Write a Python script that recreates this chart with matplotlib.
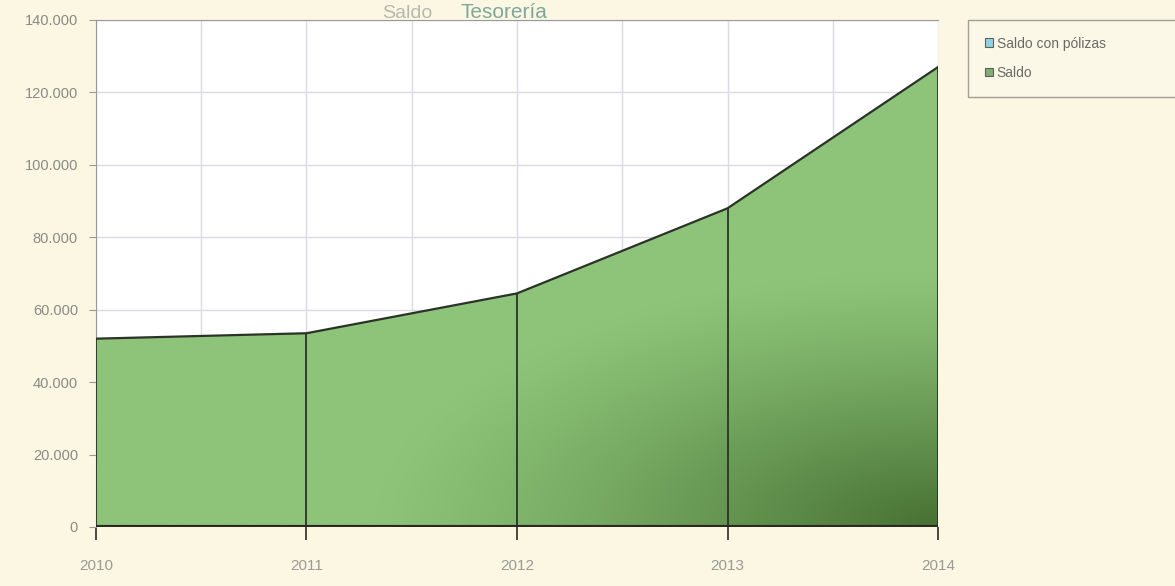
import matplotlib
matplotlib.use("Agg")
import matplotlib.pyplot as plt
import numpy as np
from matplotlib.patches import Polygon, Patch
from matplotlib.ticker import FuncFormatter

# Saldo de tesorería por año
years = [2010, 2011, 2012, 2013, 2014]
saldo = [52000, 53500, 64500, 88000, 127000]
legend_labels = ["Saldo con pólizas", "Saldo"]

plt.rcParams["font.family"] = ["Liberation Sans Narrow", "Liberation Sans", "DejaVu Sans"]

bg = "#fbf7e3"
fig = plt.figure(figsize=(11.75, 5.86), dpi=100, facecolor=bg)
ax = fig.add_axes([0.0817, 0.1007, 0.7166, 0.8652])
ax.set_facecolor("white")

ax.set_xlim(years[0], years[-1])
ax.set_ylim(0, 140000)

# cuadrícula: años y medios años, y cada 20.000
ax.set_xticks(years)
ax.set_xticks([y + 0.5 for y in years[:-1]], minor=True)
ax.set_yticks(range(0, 140001, 20000))
ax.grid(True, which="both", color="#d9dbe6", linewidth=1.0)
ax.set_axisbelow(True)

# relleno con degradado verde, más oscuro abajo a la derecha
xs = np.linspace(0, 1, 300)
ys = np.linspace(0, 1, 200)
X, Y = np.meshgrid(xs, ys)
d = np.clip(1.0 - np.hypot((1 - X) * 1.5, Y * 2.0), 0, 1) ** 1.2 * 0.85
light = np.array([0x8d, 0xc4, 0x79]) / 255.0
dark = np.array([0x3a, 0x62, 0x26]) / 255.0
img = light[None, None, :] * (1 - d[..., None]) + dark[None, None, :] * d[..., None]
im = ax.imshow(img, extent=(years[0], years[-1], 0, 140000), origin="lower",
               aspect="auto", zorder=2, interpolation="bilinear")
verts = [(years[0], 0)] + list(zip(years, saldo)) + [(years[-1], 0)]
poly = Polygon(verts, closed=True, facecolor="none", edgecolor="none",
               transform=ax.transData)
ax.add_patch(poly)
im.set_clip_path(poly)

ax.plot(years, saldo, color="#2b3328", linewidth=1.6, zorder=4)
ax.vlines(years, 0, saldo, color="#2b3328", linewidth=1.3, zorder=4)
ax.axhline(0, color="#2a2a22", linewidth=3.0, zorder=5)

for side in ["top", "left"]:
    ax.spines[side].set_color("#9a9a98")
ax.spines["right"].set_visible(False)
ax.spines["bottom"].set_visible(False)

ax.yaxis.set_major_formatter(FuncFormatter(lambda v, p: f"{int(v):,}".replace(",", ".")))
ax.tick_params(axis="y", length=5, color="#9a9a98", labelsize=10.5,
               labelcolor="#8a8a86", pad=8)
ax.tick_params(axis="x", which="major", length=9, width=1.2, color="#2a2a22",
               labelsize=11, labelcolor="#9a9a96", pad=14)
ax.tick_params(axis="x", which="minor", length=0)

# título sobre el área del gráfico
fig.text(0.325, 0.970, "Saldo", fontsize=14, color="#b8b8b0", ha="left", va="baseline")
fig.text(0.392, 0.970, "Tesorería", fontsize=15, color="#7fa79b", ha="left", va="baseline")

handles = [Patch(facecolor="#8fd3e0", edgecolor="#606060", linewidth=0.8),
           Patch(facecolor="#7fb070", edgecolor="#606060", linewidth=0.8)]
leg = fig.legend(handles, legend_labels, loc="upper left",
                 bbox_to_anchor=(0.824, 0.83, 0.19, 0.136), mode="expand",
                 frameon=True, fontsize=10,
                 handlelength=0.6, handleheight=0.6, handletextpad=0.25,
                 borderpad=1.2, labelspacing=1.1, fancybox=False,
                 borderaxespad=0)
leg.get_frame().set_edgecolor("#8a8a86")
leg.get_frame().set_facecolor("#fcf9ea")
for t in leg.get_texts():
    t.set_color("#6a6a66")

fig.savefig("out.png", dpi=100, facecolor=bg)
